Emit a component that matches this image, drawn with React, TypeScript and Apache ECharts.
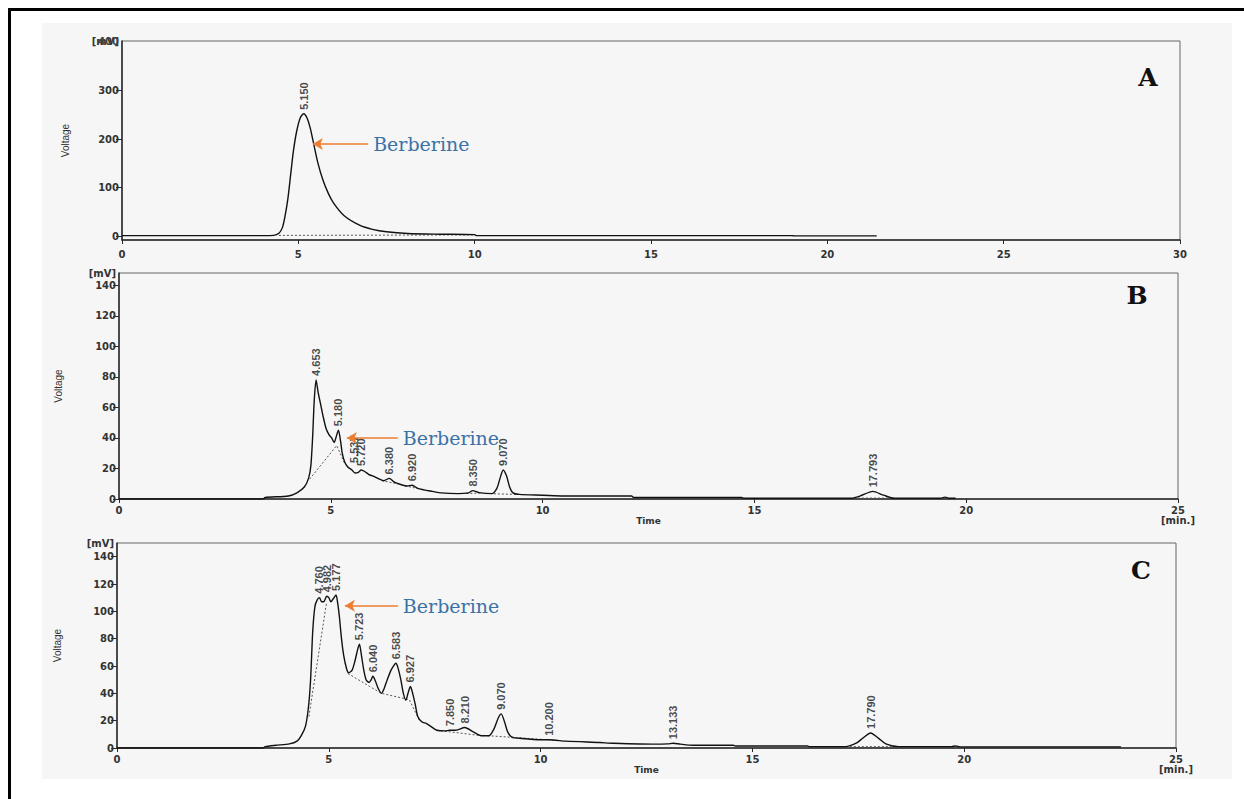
import React, { useEffect, useRef } from "react";
import * as echarts from "echarts";

// ---------- data ----------
const X_TICKS_A = [0, 5, 10, 15, 20, 25, 30];
const X_TICKS_BC = [0, 5, 10, 15, 20, 25];
const Y_TICKS_A = [0, 100, 200, 300, 400];
const Y_TICKS_BC = [0, 20, 40, 60, 80, 100, 120, 140];
const X_MAX = [30, 25, 25];
const Y_MIN = [-8, 0, 0];
const Y_MAX = [402, 148, 150];
const PANEL_LETTERS = ["A", "B", "C"];

// chromatogram A (time [min], voltage [mV])
const TRACE_A = [
  [0, 1], [4.0, 1], [4.3, 1.5], [4.45, 6], [4.55, 18], [4.62, 40], [4.7, 75], [4.78, 125],
  [4.86, 175], [4.95, 215], [5.05, 243], [5.15, 252], [5.25, 243], [5.34, 222], [5.43, 192],
  [5.55, 152], [5.7, 115], [5.85, 88], [6.0, 68], [6.3, 42], [6.75, 22], [7.1, 14], [7.5, 9],
  [8.1, 5.5], [9.0, 4], [10.0, 3], [10.05, 1], [19.0, 1], [19.05, 0.5], [21.4, 0.5],
];
const BASE_A = [[[4.45, 1.5], [10.0, 2.5]]];
const PEAKS_A = [[5.15, 252, "5.150"]];
const ARROW_A = [5.41, 6.98, 190];

// chromatogram B
const TRACE_B = [
  [0, 0], [3.4, 0], [3.45, 1], [4.0, 2], [4.2, 4], [4.38, 8], [4.48, 14], [4.53, 22], [4.57, 40],
  [4.61, 65], [4.653, 78], [4.7, 70], [4.76, 62], [4.82, 54], [4.89, 46], [4.96, 42], [5.02, 40],
  [5.08, 37], [5.13, 41], [5.18, 45], [5.23, 38], [5.27, 30], [5.33, 24], [5.4, 21], [5.45, 20],
  [5.5, 19], [5.57, 17], [5.65, 17.5], [5.72, 19], [5.8, 18], [5.9, 16], [6.0, 15], [6.15, 13],
  [6.25, 12], [6.38, 13.5], [6.5, 11], [6.65, 9.5], [6.8, 8.5], [6.92, 9], [7.05, 7], [7.2, 6],
  [7.4, 5], [7.6, 4], [8.0, 3.5], [8.25, 4], [8.35, 5.5], [8.5, 4.2], [8.8, 3.5], [8.92, 7],
  [9.0, 14], [9.07, 19], [9.15, 15], [9.22, 8], [9.3, 4], [9.45, 3], [10.0, 2.5], [10.5, 2],
  [12.1, 2], [12.15, 1], [14.7, 1], [14.75, 0.5], [17.3, 0.5], [17.5, 2], [17.793, 5],
  [18.05, 2.5], [18.3, 0.5], [19.4, 0.5], [19.5, 1.2], [19.6, 0.5], [19.75, 0.5],
];
const BASE_B = [
  [[4.5, 13], [5.14, 35], [5.33, 23]],
  [[6.2, 12], [6.6, 9.8]],
  [[6.75, 8.6], [7.1, 6.6]],
  [[8.2, 3.6], [8.55, 3.9]],
  [[8.85, 3.4], [9.4, 3]],
  [[17.35, 0.6], [18.25, 0.6]],
];
const PEAKS_B = [
  [4.653, 78, "4.653"], [5.18, 45, "5.180"], [5.537, 21, "5.537"], [5.72, 19, "5.720"],
  [6.38, 13.5, "6.380"], [6.92, 9, "6.920"], [8.35, 5.5, "8.350"], [9.07, 19, "9.070"],
  [17.793, 5, "17.793"],
];
const ARROW_B = [5.38, 6.58, 40];

// chromatogram C
const TRACE_C = [
  [0, 0], [3.45, 0], [3.5, 1], [3.75, 2], [4.07, 3], [4.25, 5], [4.35, 9], [4.45, 16], [4.52, 30],
  [4.57, 50], [4.62, 85], [4.67, 103], [4.72, 108], [4.78, 110], [4.83, 107], [4.88, 107],
  [4.95, 111], [5.0, 110], [5.05, 107], [5.1, 109], [5.17, 112], [5.21, 106], [5.25, 96],
  [5.3, 80], [5.35, 68], [5.42, 58], [5.47, 55], [5.55, 57], [5.62, 64], [5.68, 72], [5.723, 76],
  [5.77, 68], [5.82, 58], [5.88, 50], [5.95, 48], [6.0, 50], [6.04, 52.5], [6.1, 49], [6.16, 44],
  [6.24, 40], [6.3, 43], [6.38, 50], [6.47, 57], [6.55, 61], [6.583, 62], [6.63, 59], [6.7, 50],
  [6.76, 40], [6.82, 35], [6.87, 40], [6.927, 45], [6.98, 40], [7.04, 32], [7.1, 23], [7.2, 19],
  [7.3, 18], [7.4, 16], [7.55, 13], [7.75, 12.5], [7.85, 13], [8.0, 13], [8.21, 15], [8.4, 12],
  [8.6, 9], [8.78, 9], [8.9, 14], [9.0, 22], [9.07, 25], [9.15, 19], [9.22, 12], [9.32, 8],
  [9.55, 7], [10.0, 6], [10.2, 6], [10.6, 5], [11.4, 4], [11.7, 3.5], [12.7, 2.8], [13.0, 3],
  [13.133, 3.5], [13.3, 2.8], [13.6, 2], [14.55, 2], [14.6, 1.5], [16.3, 1.5], [16.35, 1],
  [17.2, 1], [17.45, 3.5], [17.6, 7], [17.79, 11], [17.98, 7], [18.15, 3], [18.45, 1], [19.7, 1],
  [19.8, 1.5], [19.9, 0.8], [23.7, 0.8],
];
const BASE_C = [
  [[4.53, 23], [4.95, 107]],
  [[5.45, 54.5], [6.24, 40], [6.9, 35.4], [7.15, 19.5]],
  [[7.55, 13], [8.6, 9]],
  [[8.75, 9], [9.5, 7.5], [10.4, 5.5]],
  [[17.3, 1], [18.4, 1]],
];
const PEAKS_C = [
  [4.76, 110, "4.760"], [4.95, 111, "4.982"], [5.177, 112, "5.177"], [5.723, 76, "5.723"],
  [6.04, 52.5, "6.040"], [6.583, 62, "6.583"], [6.927, 45, "6.927"], [7.85, 13, "7.850"],
  [8.21, 15, "8.210"], [9.07, 25, "9.070"], [10.2, 6, "10.200"], [13.133, 3.5, "13.133"],
  [17.79, 11, "17.790"],
];
const ARROW_C = [5.38, 6.63, 104];

const TRACES = [TRACE_A, TRACE_B, TRACE_C];
const BASES = [BASE_A, BASE_B, BASE_C];
const PEAKS = [PEAKS_A, PEAKS_B, PEAKS_C];
const ARROWS = [ARROW_A, ARROW_B, ARROW_C];

// ---------- styling / layout ----------
const GRIDS = [
  { left: 122, top: 41, width: 1058, height: 199 },
  { left: 119, top: 273, width: 1059, height: 226 },
  { left: 117, top: 543, width: 1059, height: 205 },
];
const LETTER_POS = [
  [1148, 77],
  [1137, 295],
  [1141, 570],
];
const NAME_GAPS = [52, 56, 55];
const X_LABEL_MARGIN = [9, 6, 6];
const TICK_FONT = "'DejaVu Sans', sans-serif";
const AXIS_COLOR = "#2a2a2a";

export default function App() {
  const ref = useRef<HTMLDivElement>(null);

  useEffect(() => {
    document.body.style.margin = "0";
    if (!ref.current) return;
    const chart = echarts.init(ref.current, undefined, { renderer: "svg" });

    const xAxis: any[] = [];
    const yAxis: any[] = [];
    const series: any[] = [];
    const labelStyle = {
      fontFamily: TICK_FONT,
      fontWeight: "bold",
      fontSize: 10,
      color: "#333",
    };

    for (let i = 0; i < 3; i++) {
      const yTicks = i === 0 ? Y_TICKS_A : Y_TICKS_BC;
      const yMax = Y_MAX[i];
      xAxis.push({
        type: "value",
        gridIndex: i,
        min: 0,
        max: X_MAX[i],
        interval: 5,
        name: i === 0 ? "" : "Time",
        nameLocation: "middle",
        nameGap: 17,
        nameMoveOverlap: false,
        nameTextStyle: { fontFamily: TICK_FONT, fontWeight: "bold", fontSize: 9, color: "#333" },
        axisLine: { show: true, onZero: false, lineStyle: { color: AXIS_COLOR, width: 1.5 } },
        axisTick: { show: true, length: 4, lineStyle: { color: AXIS_COLOR, width: 1 } },
        splitLine: { show: false },
        axisLabel: {
          ...labelStyle,
          margin: X_LABEL_MARGIN[i],
          lineHeight: 10,
          showMaxLabel: true,
          formatter: (v: number) => (i > 0 && v === 25 ? "25\n[min.]" : String(v)),
        },
      });
      yAxis.push({
        type: "value",
        gridIndex: i,
        min: Y_MIN[i],
        max: yMax,
        name: "Voltage",
        nameLocation: "middle",
        nameRotate: 90,
        nameGap: NAME_GAPS[i],
        nameMoveOverlap: false,
        nameTextStyle: { fontFamily: "'Liberation Sans Narrow', 'Liberation Sans', sans-serif", fontSize: 10, color: "#333" },
        axisLine: { show: true, onZero: false, lineStyle: { color: AXIS_COLOR, width: 1.5 } },
        axisTick: { show: true, length: 6, customValues: yTicks, lineStyle: { color: AXIS_COLOR, width: 1 } },
        splitLine: { show: false },
        axisLabel: {
          ...labelStyle,
          margin: 3,
          showMaxLabel: true,
          showMinLabel: true,
          customValues: [...yTicks, yMax],
          formatter: (v: number) => (v === yMax ? "[mV]" : String(v)),
        },
      });

      const arrow = ARROWS[i];
      series.push({
        type: "line",
        xAxisIndex: i,
        yAxisIndex: i,
        data: TRACES[i],
        showSymbol: false,
        smooth: 0.25,
        silent: true,
        lineStyle: { color: "#111", width: 1.4 },
        z: 3,
        markLine: {
          silent: true,
          symbol: ["arrow", "none"],
          symbolSize: [9, 10],
          lineStyle: { color: "#ed7d31", width: 1.5, type: "solid" },
          label: {
            show: true,
            position: "end",
            distance: 5,
            formatter: "Berberine",
            fontFamily: "'DejaVu Serif', serif",
            fontSize: 19,
            color: "#3b72a6",
          },
          data: [[{ coord: [arrow[0], arrow[2]] }, { coord: [arrow[1], arrow[2]] }]],
        },
      });
      BASES[i].forEach((seg) => {
        series.push({
          type: "line",
          xAxisIndex: i,
          yAxisIndex: i,
          data: seg,
          showSymbol: false,
          silent: true,
          lineStyle: { color: "#555", width: 1, type: [2, 2] },
          z: 2,
        });
      });
      series.push({
        type: "scatter",
        xAxisIndex: i,
        yAxisIndex: i,
        symbolSize: 0,
        silent: true,
        data: PEAKS[i].map((p) => ({ value: [p[0], p[1]], name: p[2] })),
        label: {
          show: true,
          formatter: "{b}",
          position: "top",
          distance: 4,
          rotate: 90,
          align: "left",
          verticalAlign: "middle",
          fontFamily: "'Liberation Sans Narrow', 'Liberation Sans', sans-serif",
          fontWeight: "bold",
          fontSize: 11,
          color: "#1a1a1a",
        },
        z: 4,
      });
    }

    // extra label-only axis on panel A: the "400" tick label that sits under "[mV]"
    yAxis.push({
      type: "value",
      gridIndex: 0,
      position: "left",
      min: Y_MIN[0],
      max: Y_MAX[0],
      axisLine: { show: false },
      axisTick: { show: false },
      splitLine: { show: false },
      axisLabel: {
        ...labelStyle,
        margin: 3,
        customValues: [400],
        color: "#444",
      },
    });

    const graphic: any[] = [
      {
        type: "rect",
        z: -10,
        silent: true,
        shape: { x: 42, y: 23, width: 1190, height: 756 },
        style: { fill: "#f6f6f6" },
      },
      {
        type: "rect",
        z: -9,
        silent: true,
        shape: { x: 9.5, y: 9.5, width: 1260, height: 820 },
        style: { fill: "none", stroke: "#000", lineWidth: 3 },
      },
      ...PANEL_LETTERS.map((t, i) => ({
        type: "text",
        silent: true,
        x: LETTER_POS[i][0],
        y: LETTER_POS[i][1],
        style: {
          text: t,
          fontFamily: "'DejaVu Serif', serif",
          fontWeight: "bold",
          fontSize: 25,
          fill: "#111",
          align: "center",
          verticalAlign: "middle",
        },
      })),
    ];

    chart.setOption({
      animation: false,
      backgroundColor: "#ffffff",
      grid: GRIDS.map((g) => ({ ...g, show: true, borderColor: "#666", borderWidth: 1, backgroundColor: "transparent" })),
      xAxis,
      yAxis,
      series,
      graphic,
    });

    return () => chart.dispose();
  }, []);

  return <div ref={ref} style={{ width: 1244, height: 799 }} />;
}
